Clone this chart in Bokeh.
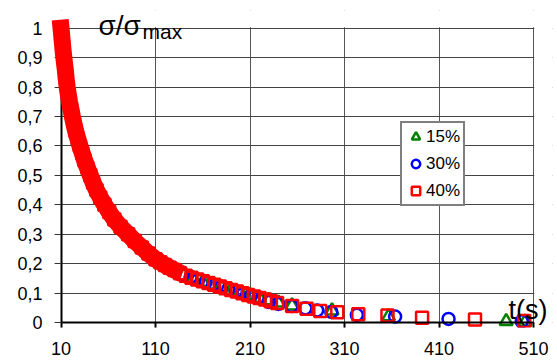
from bokeh.plotting import figure
from bokeh.models import (Range1d, FixedTicker, Label, Legend, LegendItem,
                          LinearAxis, BoxAnnotation)
from bokeh.embed import file_html
from bokeh.resources import INLINE

FONT = "Liberation Sans"

# ---- data -------------------------------------------------------------
x_ticks = [10, 110, 210, 310, 410, 510]
y_ticks = [0.0, 0.1, 0.2, 0.3, 0.4, 0.5, 0.6, 0.7, 0.8, 0.9, 1.0]
y_tick_labels = ["0", "0,1", "0,2", "0,3", "0,4", "0,5", "0,6", "0,7", "0,8", "0,9", "1"]

series_labels = ["15%", "30%", "40%"]

green_t = [10, 11, 12, 13, 14.5, 16.5, 19, 22, 25.5, 30,
           35, 41, 48, 56, 66.5, 81, 95.5, 110, 120, 130,
           140, 150, 160, 170, 180, 190, 200, 210, 220, 230,
           240, 254.4, 296.7, 356.5, 481, 501]
green_y = [0.995, 0.958, 0.924, 0.894, 0.853, 0.796, 0.746, 0.696, 0.646, 0.596,
           0.546, 0.496, 0.446, 0.396, 0.346, 0.296, 0.251, 0.211, 0.192, 0.175,
           0.16, 0.149, 0.138, 0.128, 0.119, 0.11, 0.101, 0.092, 0.083, 0.075,
           0.067, 0.057, 0.04, 0.02, 0.004, 0.002]

blue_t = [10, 11, 12, 13, 14.5, 16.5, 19, 22, 25.5, 30,
          35, 41, 48, 56, 66.5, 81, 95.5, 110, 120, 130,
          139, 147, 155, 163, 171, 179, 187, 195, 203, 211,
          219, 229.6, 240, 254, 268.5, 281, 296, 323, 363.5, 420,
          497.5]
blue_y = [1.0, 0.962, 0.928, 0.898, 0.858, 0.802, 0.752, 0.702, 0.652, 0.602,
          0.552, 0.502, 0.452, 0.402, 0.352, 0.302, 0.256, 0.217, 0.197, 0.18,
          0.164, 0.154, 0.145, 0.136, 0.128, 0.12, 0.113, 0.106, 0.099, 0.092,
          0.085, 0.07, 0.063, 0.056, 0.048, 0.041, 0.036, 0.026, 0.02, 0.012,
          0.004]

red_t = [10, 10.5, 11, 11.5, 12, 12.5, 13, 13.7, 14.5, 15.4,
         16.5, 17.7, 19, 20.5, 22, 23.7, 25.5, 27.7, 30, 32.5,
         35, 38, 41, 44, 47.5, 51.5, 56, 61, 66.5, 73,
         81, 88, 95.5, 102.5, 110, 115, 120, 125, 130,
         136, 142, 148, 154, 160, 166, 172, 178, 184, 190,
         196, 202, 208, 214, 220, 226, 232, 238.6, 254.5, 269.8,
         284.3, 302.3, 324.5, 355.4, 392, 448, 500]
red_y = [1.0, 0.983, 0.965, 0.948, 0.93, 0.915, 0.9, 0.88, 0.86, 0.83,
         0.8, 0.775, 0.75, 0.725, 0.7, 0.675, 0.65, 0.625, 0.6, 0.575,
         0.55, 0.525, 0.5, 0.475, 0.45, 0.425, 0.4, 0.375, 0.35, 0.325,
         0.3, 0.277, 0.255, 0.234, 0.215, 0.205, 0.195, 0.186, 0.178,
         0.167, 0.159, 0.152, 0.146, 0.14, 0.134, 0.128, 0.122, 0.116, 0.11,
         0.105, 0.099, 0.093, 0.088, 0.083, 0.078, 0.072, 0.066, 0.056, 0.047,
         0.039, 0.035, 0.028, 0.024, 0.016, 0.01, 0.005]

# the red markers overlap into a solid band up to this time
band_limit = 130

# ---- figure -----------------------------------------------------------
T_END = 510
X0, X1 = 3.1, 530.0
Y0, Y1 = -0.017, 1.06
p = figure(frame_width=498, frame_height=317,
           x_range=Range1d(X0, X1), y_range=Range1d(Y0, Y1),
           min_border_left=54, min_border_right=4,
           min_border_top=10, min_border_bottom=35,
           output_backend="svg", toolbar_location=None)
p.background_fill_color = "white"
p.border_fill_color = "white"
p.outline_line_color = None

# tick-label axes (placed in the side panels)
xa = p.xaxis[0]
xa.ticker = FixedTicker(ticks=x_ticks)
xa.axis_line_color = None
xa.major_tick_in = 0
xa.major_tick_out = 0
xa.minor_tick_in = 0
xa.minor_tick_out = 0
xa.major_label_text_font = FONT
xa.major_label_text_font_size = "18px"
xa.major_label_text_color = "black"
xa.major_label_standoff = 14

ya = p.yaxis[0]
ya.ticker = FixedTicker(ticks=y_ticks)
ya.major_label_overrides = dict(zip(y_ticks, y_tick_labels))
ya.axis_line_color = None
ya.major_tick_in = 0
ya.major_tick_out = 0
ya.minor_tick_in = 0
ya.minor_tick_out = 0
ya.major_label_text_font = FONT
ya.major_label_text_font_size = "18px"
ya.major_label_text_color = "black"
ya.major_label_standoff = 12

# axis lines and ticks at t = 10 and sigma = 0
x_line = LinearAxis(fixed_location=0, bounds=(x_ticks[0], T_END),
                    ticker=FixedTicker(ticks=x_ticks),
                    axis_line_color="black", axis_line_width=2,
                    major_tick_in=0, major_tick_out=7,
                    major_tick_line_width=2, major_tick_line_color="black",
                    minor_tick_in=0, minor_tick_out=0,
                    major_label_text_font_size="1px", major_label_text_alpha=0,
                    major_label_standoff=0)
y_line = LinearAxis(fixed_location=x_ticks[0], bounds=(0, 1),
                    ticker=FixedTicker(ticks=y_ticks),
                    axis_line_color="black", axis_line_width=2,
                    major_tick_in=0, major_tick_out=7,
                    major_tick_line_width=1, major_tick_line_color="#333333",
                    minor_tick_in=0, minor_tick_out=0,
                    major_label_text_font_size="1px", major_label_text_alpha=0,
                    major_label_standoff=0)
p.add_layout(x_line, "below")
p.add_layout(y_line, "left")

p.xgrid.grid_line_color = "#555555"
p.xgrid.grid_line_width = 1
p.ygrid.grid_line_color = "#444444"
p.ygrid.grid_line_width = 1

# plot area ends at t = 510 and sigma = 1: blank out the grid beyond it
p.add_layout(BoxAnnotation(left=T_END + 0.7, right=X1, bottom=Y0, top=Y1,
                           fill_color="white", fill_alpha=1.0, line_color=None,
                           level="underlay"))
p.add_layout(BoxAnnotation(left=X0, right=X1, bottom=1.003, top=Y1,
                           fill_color="white", fill_alpha=1.0, line_color=None,
                           level="underlay"))

RED = "#ff0000"
BLUE = "#0000ff"
GREEN = "#008000"

g_r = p.scatter(green_t, green_y, marker="triangle", size=13,
                line_color=GREEN, line_width=2.5, fill_color=None)
b_r = p.scatter(blue_t, blue_y, marker="circle", size=12,
                line_color=BLUE, line_width=2.5, fill_color=None)
r_r = p.scatter(red_t, red_y, marker="square", size=12,
                line_color=RED, line_width=2.5, fill_color=None)

band_t = [t for t in red_t if t <= band_limit]
band_y = red_y[:len(band_t)]
p.line(band_t, band_y, line_color=RED, line_width=17, line_join="round",
       line_cap="square", level="annotation")

legend = Legend(items=[LegendItem(label=series_labels[0], renderers=[g_r]),
                       LegendItem(label=series_labels[1], renderers=[b_r]),
                       LegendItem(label=series_labels[2], renderers=[r_r])],
                location=(346, 121), orientation="vertical",
                glyph_width=21, glyph_height=21, label_height=21,
                spacing=6, padding=3, margin=0, label_standoff=0,
                border_line_color="black", border_line_width=2,
                background_fill_color="white", background_fill_alpha=1.0,
                label_text_font=FONT, label_text_font_size="17px",
                label_text_color="black")
p.add_layout(legend)

p.add_layout(Label(x=49.7, y=1.008, text="σ/σ", text_font=FONT,
                   text_font_size="28px", text_color="black",
                   text_align="left", text_baseline="alphabetic"))
p.add_layout(Label(x=96.2, y=0.988, text="max", text_font=FONT,
                   text_font_size="21px", text_color="black",
                   text_align="left", text_baseline="alphabetic"))
p.add_layout(Label(x=483.5, y=0.041, text="t(s)", text_font=FONT,
                   text_font_size="27px", text_color="black",
                   text_align="left", text_baseline="alphabetic"))

open("out.html", "w").write(file_html(p, INLINE))
